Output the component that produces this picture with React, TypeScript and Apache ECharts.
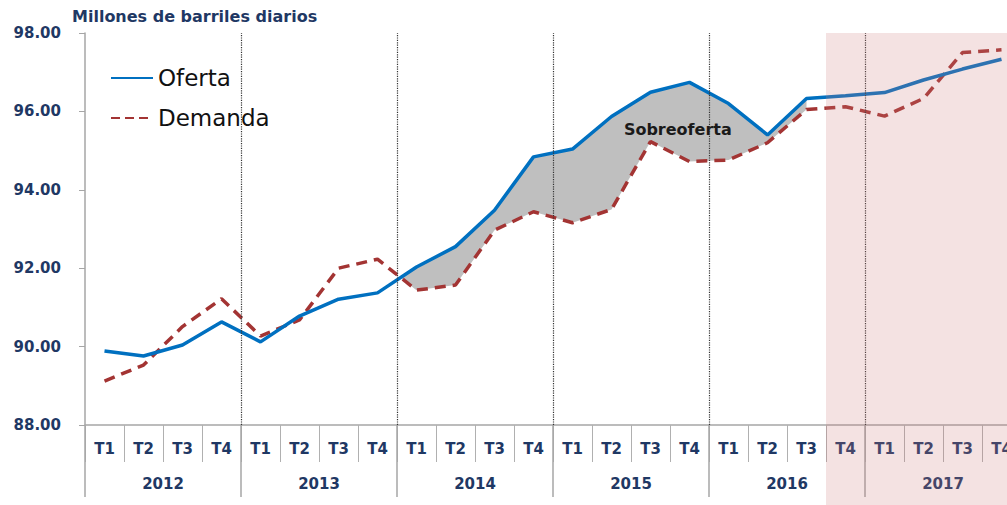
import React, { useEffect, useRef } from "react";
import * as echarts from "echarts";

const years = ["2012", "2013", "2014", "2015", "2016", "2017"];
const quarterNames = ["T1", "T2", "T3", "T4"];
const quarters = years.flatMap(() => quarterNames);

const oferta = [
  89.89, 89.76, 90.04, 90.63, 90.12, 90.78, 91.21, 91.37, 92.03, 92.55, 93.48, 94.84,
  95.04, 95.87, 96.49, 96.74, 96.2, 95.4, 96.33, 96.4, 96.48, 96.8, 97.08, 97.33,
];
const demanda = [
  89.12, 89.53, 90.51, 91.22, 90.27, 90.68, 92.0, 92.23, 91.44, 91.57, 92.97, 93.44,
  93.16, 93.5, 95.23, 94.72, 94.76, 95.2, 96.05, 96.12, 95.88, 96.33, 97.5, 97.57,
];

// shaded "Sobreoferta" span (quarter indices), forecast start, annotation spot
const shadeFrom = 7; // crossing between index 7 and 8
const shadeTo = 18;
const forecastStart = 19;
const annotation = { text: "Sobreoferta", x: 15.2, y: 95.55 };
const yTicks = { min: 88, max: 98, interval: 2 };

const NAVY = "#1f3864";
const FONT = "DejaVu Sans";

export default function App() {
  const ref = useRef<HTMLDivElement>(null);

  useEffect(() => {
    if (!ref.current) return;
    const chart = echarts.init(ref.current, null, { renderer: "svg" });

    const px = (i: number) => i + 0.5;

    // crossing point between shadeFrom and shadeFrom+1
    const d0 = oferta[shadeFrom] - demanda[shadeFrom];
    const d1 = oferta[shadeFrom + 1] - demanda[shadeFrom + 1];
    const t = d0 / (d0 - d1);
    const cross = [
      px(shadeFrom) + t,
      oferta[shadeFrom] + t * (oferta[shadeFrom + 1] - oferta[shadeFrom]),
    ];

    const yearBounds = years.slice(1).map((_, i) => ({ xAxis: (i + 1) * 4 }));

    chart.setOption({
      animation: false,
      title: {
        text: "Millones de barriles diarios",
        left: 72,
        top: 8,
        padding: 0,
        textStyle: { fontFamily: FONT, fontSize: 16, fontWeight: "bold", color: NAVY },
      },
      legend: {
        data: [
          { name: "Oferta" },
          { name: "Demanda", lineStyle: { type: [9, 5] } },
        ],
        orient: "vertical",
        left: 105,
        top: 60,
        itemWidth: 42,
        itemHeight: 14,
        itemGap: 14,
        itemStyle: { color: "transparent", borderColor: "transparent", borderWidth: 0 },
        textStyle: { fontFamily: FONT, fontSize: 23, color: "#111", lineHeight: 26 },
      },
      grid: { left: 85, top: 33, width: 936, bottom: 80, containLabel: false, outerBoundsMode: "none" },
      xAxis: [
        {
          type: "category",
          data: quarters,
          position: "bottom",
          boundaryGap: true,
          axisLine: { show: true, lineStyle: { color: "#a6a6a6", width: 1.5 } },
          axisTick: { show: true, interval: 0, length: 37, lineStyle: { color: "#b0b0b0" } },
          axisLabel: {
            interval: 0,
            margin: 16,
            fontFamily: FONT,
            fontSize: 15,
            fontWeight: "bold",
            color: NAVY,
          },
          splitLine: { show: false },
        },
        {
          type: "category",
          data: years,
          position: "bottom",
          boundaryGap: true,
          axisLine: { show: false },
          axisTick: { show: true, interval: 0, length: 72, lineStyle: { color: "#a6a6a6", width: 1.5 } },
          axisLabel: {
            interval: 0,
            margin: 51,
            fontFamily: FONT,
            fontSize: 15,
            fontWeight: "bold",
            color: NAVY,
          },
          splitLine: { show: false },
        },
        {
          type: "value",
          show: false,
          min: 0,
          max: quarters.length,
          splitLine: { show: false },
        },
      ],
      yAxis: {
        type: "value",
        min: yTicks.min,
        max: yTicks.max,
        interval: yTicks.interval,
        axisLine: { show: true, lineStyle: { color: "#a6a6a6", width: 1.5 } },
        axisTick: { show: true, length: 6, lineStyle: { color: "#a6a6a6" } },
        axisLabel: {
          margin: 24,
          formatter: (v: number) => v.toFixed(2),
          fontFamily: FONT,
          fontSize: 15,
          fontWeight: "bold",
          color: NAVY,
        },
        splitLine: { show: false },
      },
      series: [
        {
          type: "custom",
          xAxisIndex: 2,
          z: 1,
          silent: true,
          data: [[0, yTicks.min]],
          renderItem: (_params: any, api: any) => {
            const pts: number[][] = [api.coord(cross)];
            for (let i = shadeFrom + 1; i <= shadeTo; i++) pts.push(api.coord([px(i), oferta[i]]));
            for (let i = shadeTo; i >= shadeFrom + 1; i--) pts.push(api.coord([px(i), demanda[i]]));
            const tp = api.coord([annotation.x, annotation.y]);
            return {
              type: "group",
              children: [
                { type: "polygon", shape: { points: pts }, style: { fill: "#bfbfbf" } },
                {
                  type: "text",
                  x: tp[0],
                  y: tp[1],
                  z2: 50,
                  style: {
                    text: annotation.text,
                    fontFamily: FONT,
                    fontSize: 16,
                    fontWeight: "bold",
                    fill: "#1a1a1a",
                    align: "center",
                    verticalAlign: "middle",
                  },
                },
              ],
            };
          },
        },
        {
          name: "Oferta",
          type: "line",
          xAxisIndex: 2,
          z: 4,
          symbol: "none",
          data: oferta.map((v, i) => [px(i), v]),
          lineStyle: { color: "#0070c0", width: 3.5 },
          itemStyle: { color: "#0070c0" },
          markLine: {
            silent: true,
            symbol: "none",
            label: { show: false },
            lineStyle: { color: "#333", type: "dotted", width: 1.2 },
            data: yearBounds,
          },
        },
        {
          name: "Demanda",
          type: "line",
          xAxisIndex: 2,
          z: 3,
          symbol: "none",
          data: demanda.map((v, i) => [px(i), v]),
          lineStyle: { color: "#a33433", width: 3.5, type: [11, 7] },
          itemStyle: { color: "#a33433" },
        },
      ],
    });

    const x0 = chart.convertToPixel({ xAxisIndex: 2 }, forecastStart) as number;
    const y0 = chart.convertToPixel({ yAxisIndex: 0 }, yTicks.max) as number;
    const W = chart.getWidth();
    const H = chart.getHeight();
    chart.setOption({
      graphic: [
        {
          type: "rect",
          silent: true,
          z: 100,
          shape: { x: x0, y: y0, width: W - x0 + 5, height: H - y0 + 5 },
          style: { fill: "rgba(203,123,123,0.22)" },
        },
      ],
    });

    return () => chart.dispose();
  }, []);

  return (
    <div
      ref={ref}
      style={{ position: "fixed", left: 0, top: 0, width: 1007, height: 505, background: "#fff" }}
    />
  );
}
